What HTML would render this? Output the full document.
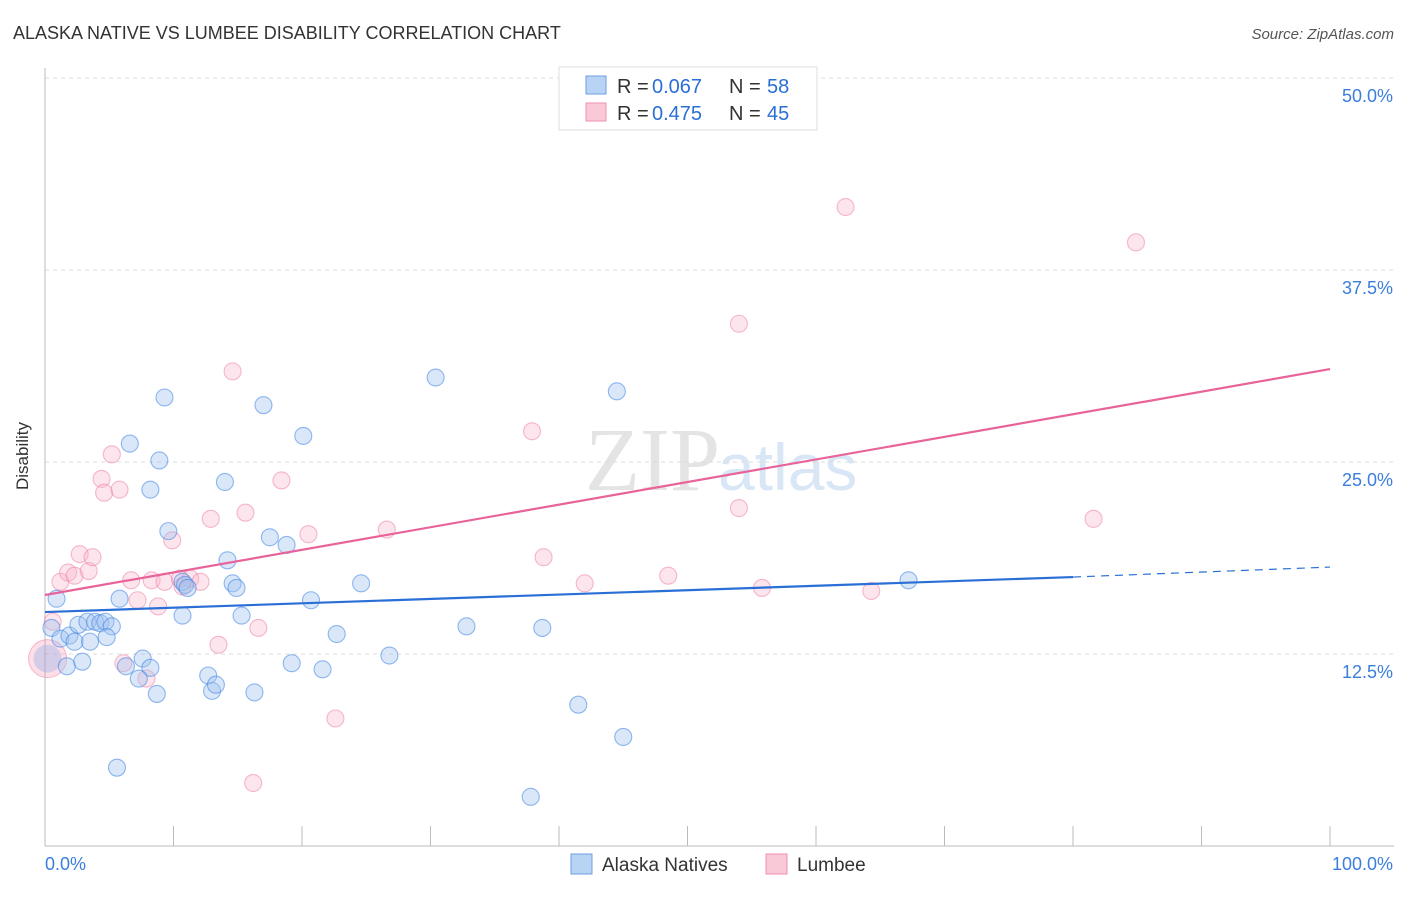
<!DOCTYPE html>
<html><head><meta charset="utf-8"><style>
body{margin:0;background:#fff;font-family:"Liberation Sans",sans-serif}
</style></head><body>
<svg id="c" width="1406" height="892" xmlns="http://www.w3.org/2000/svg">
<text x="13" y="39" font-size="18" fill="#333">ALASKA NATIVE VS LUMBEE DISABILITY CORRELATION CHART</text>
<text x="1394" y="39" font-size="15" fill="#555" font-style="italic" text-anchor="end">Source: ZipAtlas.com</text>
<text x="28" y="456" font-size="17" fill="#333" transform="rotate(-90 28 456)" text-anchor="middle">Disability</text>
<text x="720" y="490" font-size="90" fill="#e4e4e4" text-anchor="end" font-family="Liberation Serif,serif">ZIP</text>
<text x="718" y="490" font-size="66" fill="#d8e6f5">atlas</text>
<g id="grid"></g><g id="pts"></g><g id="lines"></g>
<g>
<rect x="559" y="67" width="258" height="63" fill="#fff" stroke="#ddd"/>
<rect x="586" y="76" width="20" height="18" fill="#b9d3f5" stroke="#6a9fe0"/>
<rect x="586" y="103" width="20" height="18" fill="#f9c9d8" stroke="#ee8fb0"/>
<text x="617" y="93" font-size="20" fill="#333">R =</text>
<text x="652" y="93" font-size="20" fill="#2a6fd6">0.067</text>
<text x="729" y="93" font-size="20" fill="#333">N =</text>
<text x="767" y="93" font-size="20" fill="#2a6fd6">58</text>
<text x="617" y="120" font-size="20" fill="#333">R =</text>
<text x="652" y="120" font-size="20" fill="#2a6fd6">0.475</text>
<text x="729" y="120" font-size="20" fill="#333">N =</text>
<text x="767" y="120" font-size="20" fill="#2a6fd6">45</text>
</g>
<g>
<rect x="571" y="854" width="21" height="20" fill="#b9d3f5" stroke="#6a9fe0"/>
<text x="602" y="871" font-size="19" fill="#333">Alaska Natives</text>
<rect x="766" y="854" width="21" height="20" fill="#f9c9d8" stroke="#ee8fb0"/>
<text x="797" y="871" font-size="19" fill="#333">Lumbee</text>
</g>
</svg>
<script>
const yTicks=[12.5,25,37.5,50];
const yTickLabels=["12.5%","25.0%","37.5%","50.0%"];
const xTickLabels=["0.0%","100.0%"];
const blueX=[0.9,0.5,1.2,1.9,2.3,1.7,2.9,2.6,3.3,3.9,4.3,4.7,5.2,4.8,3.5,5.6,5.8,6.6,7.6,8.2,6.3,7.3,8.7,8.2,8.9,9.3,9.6,10.7,10.9,11.1,10.7,12.7,13.0,13.3,14.0,14.2,14.6,14.9,15.3,16.3,17.0,17.5,18.8,19.2,20.1,20.7,21.6,22.7,24.6,26.8,30.4,32.8,37.8,38.7,41.5,44.5,45.0,67.2];
const blueY=[16.1,14.2,13.5,13.7,13.3,11.7,12.0,14.4,14.6,14.6,14.5,14.6,14.3,13.6,13.3,5.1,16.1,26.2,12.2,11.6,11.7,10.9,9.9,23.2,25.1,29.2,20.5,17.2,17.0,16.8,15.0,11.1,10.1,10.5,23.7,18.6,17.1,16.8,15.0,10.0,28.7,20.1,19.6,11.9,26.7,16.0,11.5,13.8,17.1,12.4,30.5,14.3,3.2,14.2,9.2,29.6,7.1,17.3];
const pinkX=[0.6,1.2,1.8,2.3,2.7,3.4,3.7,4.4,4.6,5.2,5.8,6.1,6.7,7.2,7.9,8.3,8.8,9.3,9.9,10.5,10.7,11.3,12.1,12.9,13.5,14.6,15.6,16.6,16.2,18.4,20.5,22.6,26.6,37.9,38.8,42.0,48.5,54.0,54.0,55.8,62.3,64.3,81.6,84.9];
const pinkY=[14.6,17.2,17.8,17.6,19.0,17.9,18.8,23.9,23.0,25.5,23.2,11.9,17.3,16.0,10.9,17.3,15.6,17.2,19.9,17.4,16.9,17.4,17.2,21.3,13.1,30.9,21.7,14.2,4.1,23.8,20.3,8.3,20.6,27.0,18.8,17.1,17.6,34.0,22.0,16.8,41.6,16.6,21.3,39.3];
const bigX=[0.2], bigY=[12.2];
const blueLine=[15.23,17.51,18.16]; // values at x=0, 80, 100
const pinkLine=[16.34,31.05]; // values at x=0, 100
const NS="http://www.w3.org/2000/svg";
const sx=v=>45+v*12.85, sy=v=>846-v*15.36;
function mk(t,a,p){const e=document.createElementNS(NS,t);for(const k in a)e.setAttribute(k,a[k]);p.appendChild(e);return e;}
const g=document.getElementById('grid'),P=document.getElementById('pts'),L=document.getElementById('lines');
yTicks.forEach((v,i)=>{
 const l=mk('line',{x1:45,x2:1394,y1:sy(v),y2:sy(v),stroke:'#ddd','stroke-dasharray':'4,4'},g);
 
 
 const t=mk('text',{x:1393,y:sy(v)+24,'font-size':18,fill:'#3b7ddd','text-anchor':'end'},g);t.textContent=yTickLabels[i];
 
 
});
mk('line',{x1:45,x2:45,y1:68,y2:846,stroke:'#bbb'},g);
mk('line',{x1:45,x2:1394,y1:846,y2:846,stroke:'#bbb'},g);
for(let i=0;i<=10;i++){const x=sx(i*10);const t=mk('line',{x1:x,x2:x,y1:826,y2:846,stroke:'#bbb'},g);
 
 }
[[0,'start'],[100,'end']].forEach((a,i)=>{const t=mk('text',{x:sx(a[0])+(i?63:0),y:870,'font-size':18,fill:'#3b7ddd','text-anchor':a[1]},g);t.textContent=xTickLabels[i];
 
 });
bigX.forEach((x,i)=>{
 const c1=mk('circle',{cx:sx(x),cy:sy(bigY[i]),r:19,fill:'rgba(244,150,180,0.3)',stroke:'rgba(236,120,160,0.5)'},P);
 
 
 const c2=mk('circle',{cx:sx(x),cy:sy(bigY[i]),r:14,fill:'rgba(140,170,230,0.35)',stroke:'none'},P);
 
 
});
pinkX.forEach((x,i)=>{const c=mk('circle',{cx:sx(x),cy:sy(pinkY[i]),r:8.5,fill:'rgba(248,180,202,0.35)',stroke:'rgba(236,120,160,0.5)','stroke-width':1.1},P);
 
 });
blueX.forEach((x,i)=>{const c=mk('circle',{cx:sx(x),cy:sy(blueY[i]),r:8.5,fill:'rgba(160,195,240,0.4)',stroke:'rgba(60,130,225,0.55)','stroke-width':1.1},P);
 
 });
let l1=mk('line',{x1:sx(0),y1:sy(pinkLine[0]),x2:sx(100),y2:sy(pinkLine[1]),stroke:'#e8639a','stroke-width':2.2},L);


let l2=mk('line',{x1:sx(0),y1:sy(blueLine[0]),x2:sx(80),y2:sy(blueLine[1]),stroke:'#2a6fd6','stroke-width':2.2},L);


let l3=mk('line',{x1:sx(80),y1:sy(blueLine[1]),x2:sx(100),y2:sy(blueLine[2]),stroke:'#2a6fd6','stroke-width':1.2,'stroke-dasharray':'8,6'},L);


</script>
</body></html>
